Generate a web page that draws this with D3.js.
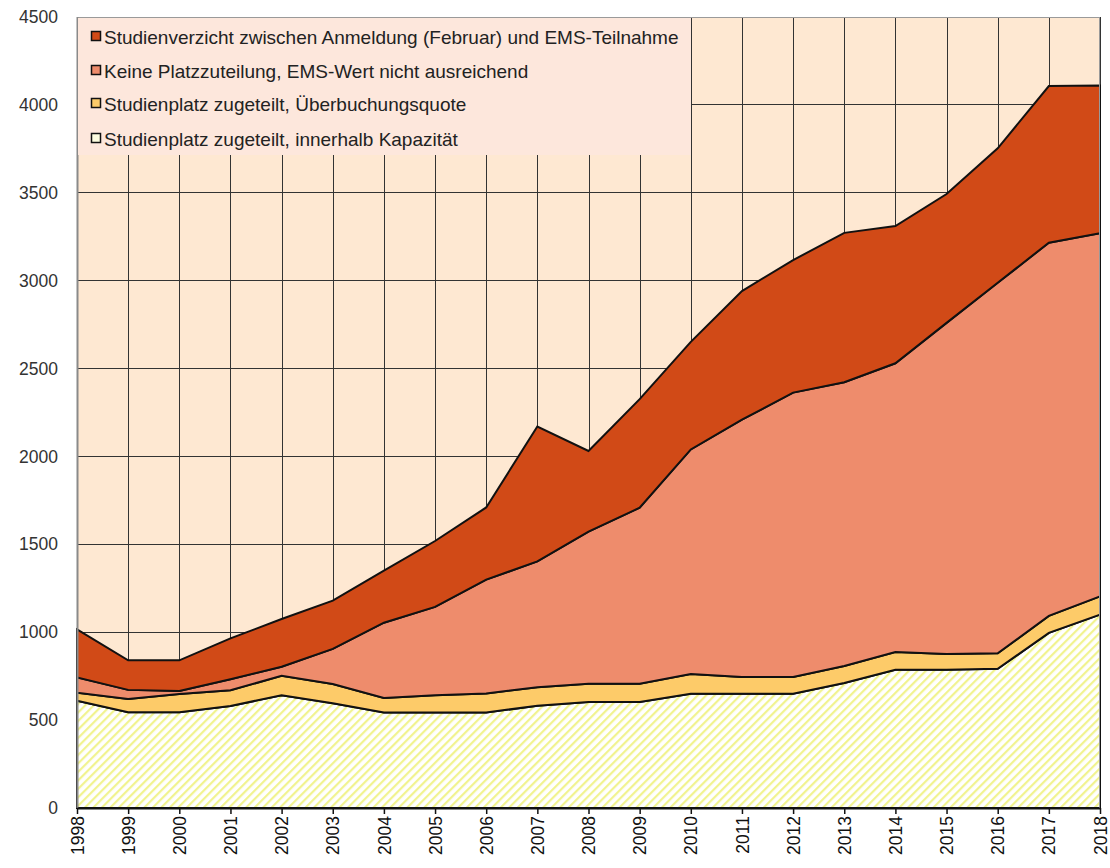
<!DOCTYPE html>
<html><head><meta charset="utf-8">
<script src="https://cdn.jsdelivr.net/npm/d3@7/dist/d3.min.js"></script>
<style>body{margin:0;background:#fff}svg{display:block}</style>
</head><body><svg id="c" width="1110" height="868"></svg>
<script>
const years = [1998,1999,2000,2001,2002,2003,2004,2005,2006,2007,2008,2009,2010,2011,2012,2013,2014,2015,2016,2017,2018];
const innerhalb = [610,545,545,580,642,596,543,543,543,582,603,603,650,650,650,711,787,787,792,996,1100];
const ueberbuchung = [46,75,103,90,110,109,83,99,109,105,104,104,112,95,95,97,100,89,88,97,104];
const keinePlatz = [87,52,18,62,52,200,428,502,647,716,865,1001,1278,1464,1618,1614,1643,1884,2108,2123,2066];
const verzicht = [273,168,174,233,271,275,296,375,411,767,459,618,612,732,754,850,781,733,765,891,840];
const yTicks = [0,500,1000,1500,2000,2500,3000,3500,4000,4500];
const seriesNames = ["Studienplatz zugeteilt, innerhalb Kapazität","Studienplatz zugeteilt, Überbuchungsquote","Keine Platzzuteilung, EMS-Wert nicht ausreichend","Studienverzicht zwischen Anmeldung (Februar) und EMS-Teilnahme"];
const colors = ["url(#hatch)","#fdcb69","#ee8c6c","#d14a17"];
const legendSwatch = ["#fdfde0","#fdcb69","#ee8c6c","#d14a17"];

const svg = d3.select("#c");
const L=77, T=17, W=1023, H=791;
const x = d3.scaleLinear().domain([1998,2018]).range([L,L+W]);
const y = d3.scaleLinear().domain([0,4500]).range([T+H,T]);

const defs = svg.append("defs");
const pat = defs.append("pattern").attr("id","hatch").attr("patternUnits","userSpaceOnUse")
  .attr("width",6).attr("height",6).attr("patternTransform","rotate(45)");
pat.append("rect").attr("width",6).attr("height",6).attr("fill","#ffffff");
pat.append("rect").attr("x",0).attr("width",2.2).attr("height",6).attr("fill","#f1f38f");

// plot background
svg.append("rect").attr("x",L).attr("y",T).attr("width",W).attr("height",H).attr("fill","#fee8d2");

// gridlines
const g = svg.append("g");
g.selectAll("line.h").data(yTicks).join("line")
  .attr("x1",L).attr("x2",L+W).attr("y1",d=>y(d)).attr("y2",d=>y(d))
  .attr("stroke","#333").attr("stroke-width",1).attr("shape-rendering","crispEdges");
g.selectAll("line.v").data(years).join("line")
  .attr("x1",d=>Math.round(x(d))+0.5).attr("x2",d=>Math.round(x(d))+0.5).attr("y1",T).attr("y2",T+H)
  .attr("stroke","#333").attr("stroke-width",1);

// stacked data
const data = years.map((yr,i)=>({year:yr, a:innerhalb[i], b:ueberbuchung[i], c:keinePlatz[i], d:verzicht[i]}));
const stack = d3.stack().keys(["a","b","c","d"]);
const layers = stack(data);
const area = d3.area().x(d=>x(d.data.year)).y0(d=>y(d[0])).y1(d=>y(d[1]));
svg.append("g").selectAll("path").data(layers).join("path")
  .attr("d",area).attr("fill",(d,i)=>colors[i])
  .attr("stroke","#111").attr("stroke-width",2).attr("stroke-linejoin","miter");

// border
svg.append("line").attr("x1",L).attr("x2",L+W).attr("y1",T+0.5).attr("y2",T+0.5).attr("stroke","#9a9a9a");
svg.append("line").attr("x1",L+W-0.5).attr("x2",L+W-0.5).attr("y1",T).attr("y2",T+H).attr("stroke","#9a9a9a");
svg.append("line").attr("x1",L+0.5).attr("x2",L+0.5).attr("y1",T).attr("y2",T+H).attr("stroke","#8a8a8a").attr("stroke-width",2);

// legend
const lg = svg.append("g");
lg.append("rect").attr("x",L+1).attr("y",T+1).attr("width",613).attr("height",137).attr("fill","#fde7dc");
const order=[3,2,1,0];
const rowsY=[37,71,104,139];
order.forEach((si,k)=>{
  lg.append("rect").attr("x",91.5).attr("y",rowsY[k]-5.5).attr("width",9).attr("height",9)
    .attr("fill",legendSwatch[si]).attr("stroke","#111").attr("stroke-width",1.5);
  lg.append("text").attr("x",104).attr("y",rowsY[k]).attr("dy","0.35em")
    .attr("font-family","Liberation Sans, Arial, sans-serif").attr("font-size",19).attr("fill","#222")
    .text(seriesNames[si]);
});

// bottom axis
const xa = svg.append("g").attr("transform",`translate(0,${T+H})`)
  .call(d3.axisBottom(x).tickValues(years).tickFormat(d3.format("d")).tickSize(6).tickSizeOuter(0));
xa.select(".domain").attr("stroke","#111").attr("stroke-width",2);
xa.selectAll(".tick line").attr("stroke","#111").attr("stroke-width",1.5);
xa.selectAll(".tick text").attr("font-family","Liberation Sans, Arial, sans-serif").attr("font-size",17.5)
  .attr("fill","#111").attr("transform","rotate(-90)").attr("text-anchor","end")
  .attr("x",-8).attr("y",0).attr("dy","0.35em");

// left axis labels
const ya = svg.append("g").attr("transform",`translate(${L},0)`)
  .call(d3.axisLeft(y).tickValues(yTicks).tickFormat(d3.format("d")).tickSize(0));
ya.select(".domain").remove();
ya.selectAll(".tick text").attr("font-family","Liberation Sans, Arial, sans-serif").attr("font-size",17.5)
  .attr("fill","#333").attr("x",-19);
</script></body></html>
